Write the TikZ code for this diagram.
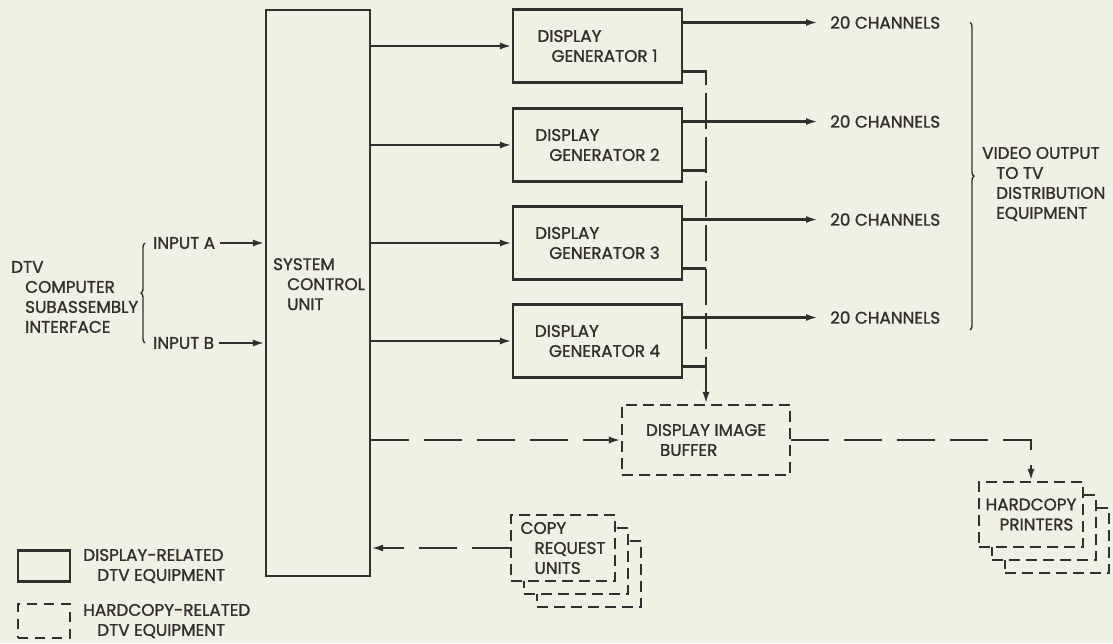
\documentclass[tikz,border=0pt]{standalone}
\usepackage{fontspec}
\setmainfont{Poppins}[FakeBold=1.3]
\usepackage{tikz}
\usetikzlibrary{positioning,arrows.meta,calc,decorations.pathreplacing}
\definecolor{paper}{RGB}{241,240,229}
\definecolor{ink}{RGB}{50,48,45}
\tikzset{
  txt/.style={text=ink, align=left, inner sep=0pt, font=\fontsize{16.8}{20}\selectfont},
  blk/.style={txt, rectangle, draw=ink, line width=2.2pt, fill=paper},
  hcblk/.style={blk, dash pattern=on 11pt off 6pt},
  wire/.style={draw=ink, line width=2.3pt},
  flowarr/.style={wire, -{Latex[length=12pt,width=7pt]}},
  hcarr/.style={flowarr, dash pattern=on 38pt off 15pt},
  busarr/.style={flowarr, dash pattern=on 36pt off 8pt},
  brc/.style={draw=ink, line width=1.4pt, decorate, decoration={brace, amplitude=4pt}},
}
\newcommand{\ind}{\hspace*{14pt}}

\begin{document}
\begin{tikzpicture}[x=1pt, y=-1pt]
\path[fill=paper, use as bounding box] (0,0) rectangle (1113,643);
\node[blk, minimum width=104pt, minimum height=566pt] (scu) at (318,293) {};
\node[txt, anchor=north west] (scut) at (273,258) {SYSTEM\\\ind CONTROL\\\ind UNIT};
\foreach \i/\y in {1/46,2/145,3/243,4/341}{
  \node[blk, minimum width=169pt, minimum height=73pt] (dg\i) at (597.5,\y) {DISPLAY\\\ind GENERATOR \i};
  \node[txt, anchor=west, inner xsep=12pt] (ch\i) at (818,\y-23.5) {20 CHANNELS};
  \coordinate (st\i) at ([yshift=12pt]dg\i.south east);
}
\node[hcblk, minimum width=168pt, minimum height=70pt] (buf) at (706,440) {DISPLAY IMAGE\\\ind BUFFER};
\foreach \d in {26,13}
  \node[hcblk, minimum width=104pt, minimum height=65pt] (prn\d) at (1031+\d,514.5+\d) {};
\node[hcblk, minimum width=104pt, minimum height=65pt] (prn) at (1031,514.5) {HARDCOPY\\\ind PRINTERS};
\foreach \d in {26,13}
  \node[hcblk, minimum width=104pt, minimum height=66pt] (crq\d) at (563+\d,548+\d) {};
\node[hcblk, minimum width=104pt, minimum height=66pt] (crq) at (563,548) {COPY\\\ind REQUEST\\\ind UNITS};
\node[txt, anchor=west, inner xsep=5pt] (inA) at (148,243) {INPUT A};
\node[txt, anchor=west, inner xsep=5pt] (inB) at (148,343) {INPUT B};
\node[txt, anchor=west] (dtv) at (11,297) {DTV\\\ind COMPUTER\\\ind SUBASSEMBLY\\\ind INTERFACE};
\node[txt, anchor=west] (vid) at (982,184) {VIDEO OUTPUT\\\ind TO TV\\\ind DISTRIBUTION\\\ind EQUIPMENT};
\node[blk, minimum width=52pt, minimum height=31pt] (lgd) at (44,566) {};
\node[txt, right=12pt of lgd] (lgdt) {DISPLAY-RELATED\\\ind DTV EQUIPMENT};
\node[hcblk, minimum width=52pt, minimum height=34pt, dash pattern=on 10pt off 7pt] (lgh) at (44,621) {};
\node[txt, right=12pt of lgh] (lght) {HARDCOPY-RELATED\\\ind DTV EQUIPMENT};
\foreach \i in {1,...,4}{
  \draw[flowarr] (dg\i.west -| scu.east) -- (dg\i.west);
  \draw[flowarr] (ch\i.west -| dg\i.east) -- (ch\i.west);
}
\foreach \i in {2,3,4}
  \draw[wire] (st\i) -- (st\i -| buf.north);
\draw[busarr] (st1) -- (st1 -| buf.north) -- (buf.north);
\draw[hcarr] (buf.west -| scu.east) -- (buf.west);
\draw[hcarr] (buf.east) -| (prn.north);
\draw[hcarr] (crq.west) -- (crq.west -| scu.east);
\foreach \a in {inA,inB}
  \draw[flowarr] (\a.east) -- (\a.east -| scu.west);
\draw[brc] ([xshift=-3pt]inB.west) -- ([xshift=-3pt]inA.west);
\draw[brc] ([xshift=-12pt]vid.west |- ch1.center) -- ([xshift=-12pt,yshift=-6pt]vid.west |- ch4.south);
\end{tikzpicture}
\end{document}
